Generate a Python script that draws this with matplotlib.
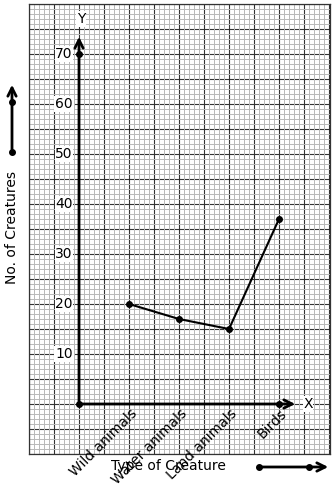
import numpy as np
import matplotlib
matplotlib.use('Agg')
from matplotlib import pyplot as plt

# data
categories = ['Wild animals', 'Water animals', 'Land animals', 'Birds']
creatures = [20, 17, 15, 37]
y_ticks = [10, 20, 30, 40, 50, 60, 70]

W, H = 334, 487
fig = plt.figure(figsize=(W / 100, H / 100), dpi=100)
fig.patch.set_facecolor('white')

# graph paper area in pixels: x 29..330, y 4..454
ax = fig.add_axes([29 / W, (H - 454) / H, 301 / W, 450 / H])
ax.set_xlim(-1, 5.02)
ax.set_ylim(-10, 80)
ax.set_xticks([])
ax.set_yticks([])
for s in ax.spines.values():
    s.set_color('#333333')
    s.set_linewidth(0.9)

# graph paper: major lines first, minor light lines over them
for yv in np.arange(-10, 80.1, 5):
    ax.axhline(yv, color='#333333', lw=0.8, zorder=1)
for xv in np.arange(-1, 5.03, 0.5):
    ax.axvline(xv, color='#333333', lw=0.8, zorder=1)
for yv in np.arange(-10, 80.1, 1):
    if yv % 5:
        ax.axhline(yv, color='#b8b8b8', lw=0.7, zorder=2)
for xv in np.arange(-1, 5.03, 0.1):
    if abs(round(xv * 2) - xv * 2) > 1e-6:
        ax.axvline(xv, color='#b8b8b8', lw=0.7, zorder=2)

# axes arrows
ax.annotate('', xy=(0, 74), xytext=(0, 0),
            arrowprops=dict(arrowstyle='->', lw=2, color='black', mutation_scale=15), zorder=5)
ax.annotate('', xy=(4.38, 0), xytext=(0, 0),
            arrowprops=dict(arrowstyle='->', lw=2, color='black', mutation_scale=15), zorder=5)
ax.plot([0, 0, 4], [0, 70, 0], 'o', color='black', ms=4, zorder=6)
ax.text(0.04, 77, 'Y', ha='center', va='center', fontsize=10,
        bbox=dict(facecolor='white', edgecolor='none', pad=0.5), zorder=7)
ax.text(4.58, 0, 'X', ha='center', va='center', fontsize=10,
        bbox=dict(facecolor='white', edgecolor='none', pad=0.5), zorder=7)

for t in y_ticks:
    ax.text(-0.3, t, str(t), ha='center', va='center', fontsize=10,
            bbox=dict(facecolor='white', edgecolor='none', pad=0.5), zorder=7)

xs = np.arange(1, len(categories) + 1)
ax.plot(xs, creatures, '-o', color='black', lw=1.5, ms=4, zorder=6)

for x, lab in zip(xs, categories):
    ax.text(x + 0.12, -1.5, lab, rotation=45, rotation_mode='anchor',
            ha='right', va='center', fontsize=10, zorder=7, clip_on=False)

fig.text(168 / W, (H - 466) / H, 'Type of Creature', ha='center', va='center', fontsize=10)
fig.text(12 / W, (H - 228) / H, 'No. of Creatures', ha='center', va='center',
         rotation=90, fontsize=10)

# scale markers outside the paper
ax.annotate('', xy=(12, H - 82), xytext=(12, H - 152), xycoords='figure pixels',
            arrowprops=dict(arrowstyle='->', lw=2, color='black', mutation_scale=15))
ax.annotate('', xy=(331, H - 467), xytext=(259, H - 467), xycoords='figure pixels',
            arrowprops=dict(arrowstyle='->', lw=2, color='black', mutation_scale=15))
for px, py in [(12, 152), (12, 102), (259, 467), (309, 467)]:
    fig.add_artist(plt.Line2D([px / W], [(H - py) / H], marker='o', color='black', ms=4))

fig.savefig('out.png', dpi=100)
